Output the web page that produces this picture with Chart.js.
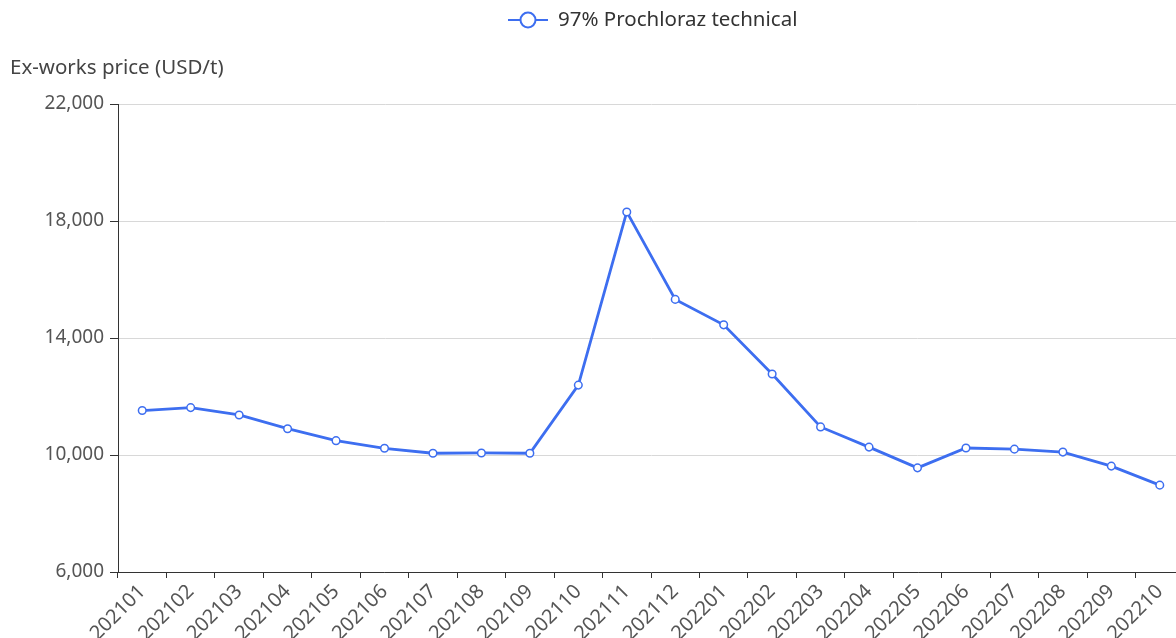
<!DOCTYPE html>
<html>
<head>
<meta charset="utf-8">
<script src="https://cdn.jsdelivr.net/npm/chart.js@4.4.0/dist/chart.umd.min.js"></script>
<style>
  html, body { margin: 0; padding: 0; background: #fff; overflow: hidden; width: 1176px; height: 638px; }
  #wrap { position: absolute; left: 0; top: 0; width: 1304px; height: 638px; }
</style>
</head>
<body>
<div id="wrap"><canvas id="c" width="1304" height="638"></canvas></div>
<script>
const categories = ['202101','202102','202103','202104','202105','202106','202107','202108','202109','202110','202111','202112','202201','202202','202203','202204','202205','202206','202207','202208','202209','202210'];
const prices = [11520, 11620, 11370, 10900, 10490, 10230, 10060, 10070, 10060, 12390, 18310, 15320, 14450, 12770, 10960, 10270, 9560, 10240, 10200, 10100, 9620, 8970];
const yTicks = [6000, 10000, 14000, 18000, 22000];
const seriesName = '97% Prochloraz technical';
const yAxisName = 'Ex-works price (USD/t)';

const BLUE = '#3d6ef0';
const FONT = '"Noto Sans", "Open Sans", sans-serif';

const overlay = {
  id: 'overlay',
  afterDraw(chart) {
    const ctx = chart.ctx;
    ctx.save();
    // legend
    const lx = 508, ly = 20;
    ctx.strokeStyle = BLUE; ctx.lineWidth = 2;
    ctx.beginPath(); ctx.moveTo(lx, ly); ctx.lineTo(lx + 40, ly); ctx.stroke();
    ctx.beginPath(); ctx.arc(lx + 20, ly, 7.5, 0, Math.PI * 2);
    ctx.fillStyle = '#fff'; ctx.fill(); ctx.stroke();
    ctx.fillStyle = '#333'; ctx.font = '20.5px ' + FONT;
    ctx.textBaseline = 'middle'; ctx.textAlign = 'left';
    ctx.fillText(seriesName, lx + 50, ly);
    // y axis name
    ctx.fillStyle = '#444';
    ctx.fillText(yAxisName, 10, 68);
    ctx.restore();
  }
};

new Chart(document.getElementById('c'), {
  type: 'line',
  data: {
    labels: categories,
    datasets: [{
      label: seriesName,
      data: prices,
      borderColor: BLUE,
      backgroundColor: '#fff',
      borderWidth: 2.8,
      pointRadius: 3.8,
      pointBorderWidth: 1.5,
      pointBackgroundColor: '#fff',
      pointBorderColor: BLUE,
      tension: 0
    }]
  },
  options: {
    responsive: false,
    animation: false,
    devicePixelRatio: 1,
    layout: { padding: { top: 104, left: 0, right: 120, bottom: 0 } },
    plugins: { legend: { display: false }, tooltip: { enabled: false } },
    scales: {
      x: {
        offset: true,
        grid: { display: true, drawOnChartArea: false, drawTicks: true, tickLength: 6, tickColor: '#333', offset: true },
        border: { color: '#333', width: 1 },
        ticks: { color: '#555', font: { size: 20, family: FONT }, minRotation: 45, maxRotation: 45, autoSkip: false, padding: 2 },
        afterFit(s) { s.height = 66; }
      },
      y: {
        min: 6000, max: 22000,
        afterBuildTicks(s) { s.ticks = yTicks.map(v => ({ value: v })); },
        grid: { color: '#d8d8d8', tickColor: '#333', tickLength: 8, drawTicks: true },
        border: { color: '#333', width: 1 },
        ticks: { color: '#555', font: { size: 19, family: FONT }, padding: 6,
          callback: v => v.toLocaleString('en-US') },
        afterFit(s) { s.width = 118; }
      }
    }
  },
  plugins: [overlay]
});
</script>
</body>
</html>
